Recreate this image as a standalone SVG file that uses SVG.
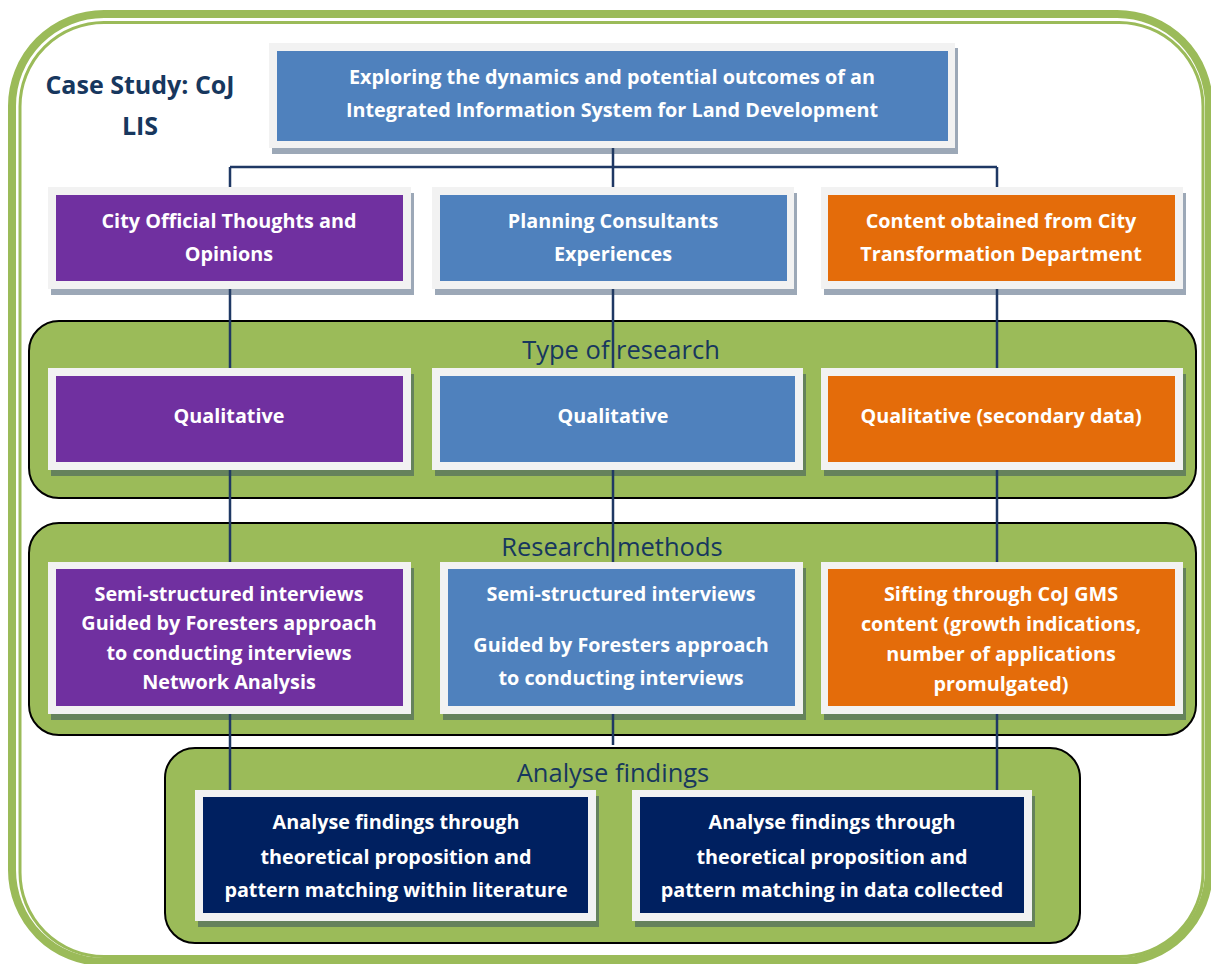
<svg xmlns="http://www.w3.org/2000/svg" width="1211" height="964" viewBox="0 0 1211 964">
<defs>
<style>
.frame{fill:#F2F2F2}
.shadow{fill:#243F60;opacity:0.45}
.blue{fill:#4F81BD}
.purple{fill:#7030A0}
.orange{fill:#E46C0A}
.navy{fill:#002060}
.panel{fill:#9BBB59;stroke:#000;stroke-width:2}
.conn{fill:none;stroke:#1F3864;stroke-width:2.5}
.t{font-family:"Open Sans","Liberation Sans",sans-serif;font-weight:bold;font-size:19.8px;fill:#fff;text-anchor:middle}
.pt{font-family:"Open Sans","Liberation Sans",sans-serif;font-size:25.5px;fill:#17375E;text-anchor:middle}
.cs{font-family:"Open Sans","Liberation Sans",sans-serif;font-weight:bold;font-size:25px;fill:#17375E;text-anchor:middle}
</style>
</defs>
<rect x="0" y="0" width="1211" height="964" fill="#fff"/>
<!-- outer frame -->
<rect x="12" y="14" width="1197" height="948" rx="92" ry="92" fill="none" stroke="#9BBB59" stroke-width="8"/>
<rect x="20" y="22.5" width="1183" height="934" rx="84" ry="84" fill="none" stroke="#9BBB59" stroke-width="3"/>

<g id="case-study">
<text class="cs" x="140" y="94">Case Study: CoJ</text>
<text class="cs" x="140" y="135">LIS</text>
</g>

<!-- panels -->
<g id="panel-type">
<rect class="panel" x="29" y="321" width="1167" height="177" rx="30" ry="30"/>
</g>
<g id="panel-methods">
<rect class="panel" x="29" y="523" width="1167" height="212" rx="30" ry="30"/>
</g>
<g id="panel-analyse">
<rect class="panel" x="165" y="748" width="915" height="195" rx="30" ry="30"/>
</g>

<g id="connectors">
<path class="conn" d="M613 148V745"/>
<path class="conn" d="M230 167H997"/>
<path class="conn" d="M230 167V790"/>
<path class="conn" d="M997 167V790"/>
</g>

<g id="panel-titles">
<text class="pt" x="621" y="359">Type of research</text>
<text class="pt" x="612" y="556">Research methods</text>
<text class="pt" x="613" y="782">Analyse findings</text>
</g>

<g id="top">
<rect class="shadow" x="272" y="48" width="686" height="106"/>
<rect class="frame" x="269" y="43" width="686" height="105"/>
<rect class="blue" x="277" y="51" width="671" height="90"/>
<text class="t" x="612" y="84">Exploring the dynamics and potential outcomes of an</text>
<text class="t" x="612" y="117">Integrated Information System for Land Development</text>
</g>

<g id="city-official">
<rect class="shadow" x="51" y="193" width="363" height="102"/>
<rect class="frame" x="48" y="187" width="363" height="102"/>
<rect class="purple" x="56" y="195" width="347" height="86"/>
<text class="t" x="229" y="228">City Official Thoughts and</text>
<text class="t" x="229" y="261">Opinions</text>
</g>
<g id="planning-consultants">
<rect class="shadow" x="435" y="193" width="362" height="102"/>
<rect class="frame" x="432" y="187" width="362" height="102"/>
<rect class="blue" x="440" y="195" width="347" height="86"/>
<text class="t" x="613" y="228">Planning Consultants</text>
<text class="t" x="613" y="261">Experiences</text>
</g>
<g id="content-city">
<rect class="shadow" x="824" y="193" width="362" height="102"/>
<rect class="frame" x="821" y="187" width="362" height="102"/>
<rect class="orange" x="828" y="195" width="347" height="86"/>
<text class="t" x="1001" y="228">Content obtained from City</text>
<text class="t" x="1001" y="261">Transformation Department</text>
</g>

<g id="qual-1">
<rect class="shadow" x="51" y="374" width="363" height="102"/>
<rect class="frame" x="48" y="368" width="363" height="102"/>
<rect class="purple" x="56" y="376" width="347" height="86"/>
<text class="t" x="229" y="423">Qualitative</text>
</g>
<g id="qual-2">
<rect class="shadow" x="435" y="374" width="371" height="102"/>
<rect class="frame" x="432" y="368" width="371" height="102"/>
<rect class="blue" x="440" y="376" width="355" height="86"/>
<text class="t" x="613" y="423">Qualitative</text>
</g>
<g id="qual-3">
<rect class="shadow" x="824" y="374" width="362" height="102"/>
<rect class="frame" x="821" y="368" width="362" height="102"/>
<rect class="orange" x="828" y="376" width="347" height="86"/>
<text class="t" x="1001" y="423">Qualitative (secondary data)</text>
</g>

<g id="method-1">
<rect class="shadow" x="51" y="568" width="363" height="152"/>
<rect class="frame" x="48" y="562" width="363" height="152"/>
<rect class="purple" x="56" y="569" width="347" height="137"/>
<text class="t" x="229" y="601">Semi-structured interviews</text>
<text class="t" x="229" y="630">Guided by Foresters approach</text>
<text class="t" x="229" y="660">to conducting interviews</text>
<text class="t" x="229" y="689">Network Analysis</text>
</g>
<g id="method-2">
<rect class="shadow" x="443" y="568" width="363" height="152"/>
<rect class="frame" x="440" y="562" width="363" height="152"/>
<rect class="blue" x="448" y="569" width="347" height="137"/>
<text class="t" x="621" y="601">Semi-structured interviews</text>
<text class="t" x="621" y="652">Guided by Foresters approach</text>
<text class="t" x="621" y="685">to conducting interviews</text>
</g>
<g id="method-3">
<rect class="shadow" x="824" y="568" width="362" height="152"/>
<rect class="frame" x="821" y="562" width="362" height="152"/>
<rect class="orange" x="828" y="569" width="347" height="137"/>
<text class="t" x="1001" y="601">Sifting through CoJ GMS</text>
<text class="t" x="1001" y="631">content (growth indications,</text>
<text class="t" x="1001" y="661">number of applications</text>
<text class="t" x="1001" y="691">promulgated)</text>
</g>

<g id="analyse-1">
<rect class="shadow" x="198" y="796" width="401" height="131"/>
<rect class="frame" x="195" y="790" width="401" height="131"/>
<rect class="navy" x="203" y="797" width="385" height="116"/>
<text class="t" x="396" y="829">Analyse findings through</text>
<text class="t" x="396" y="864">theoretical proposition and</text>
<text class="t" x="396" y="897">pattern matching within literature</text>
</g>
<g id="analyse-2">
<rect class="shadow" x="635" y="796" width="400" height="131"/>
<rect class="frame" x="632" y="790" width="400" height="131"/>
<rect class="navy" x="640" y="797" width="384" height="116"/>
<text class="t" x="832" y="829">Analyse findings through</text>
<text class="t" x="832" y="864">theoretical proposition and</text>
<text class="t" x="832" y="897">pattern matching in data collected</text>
</g>
</svg>
